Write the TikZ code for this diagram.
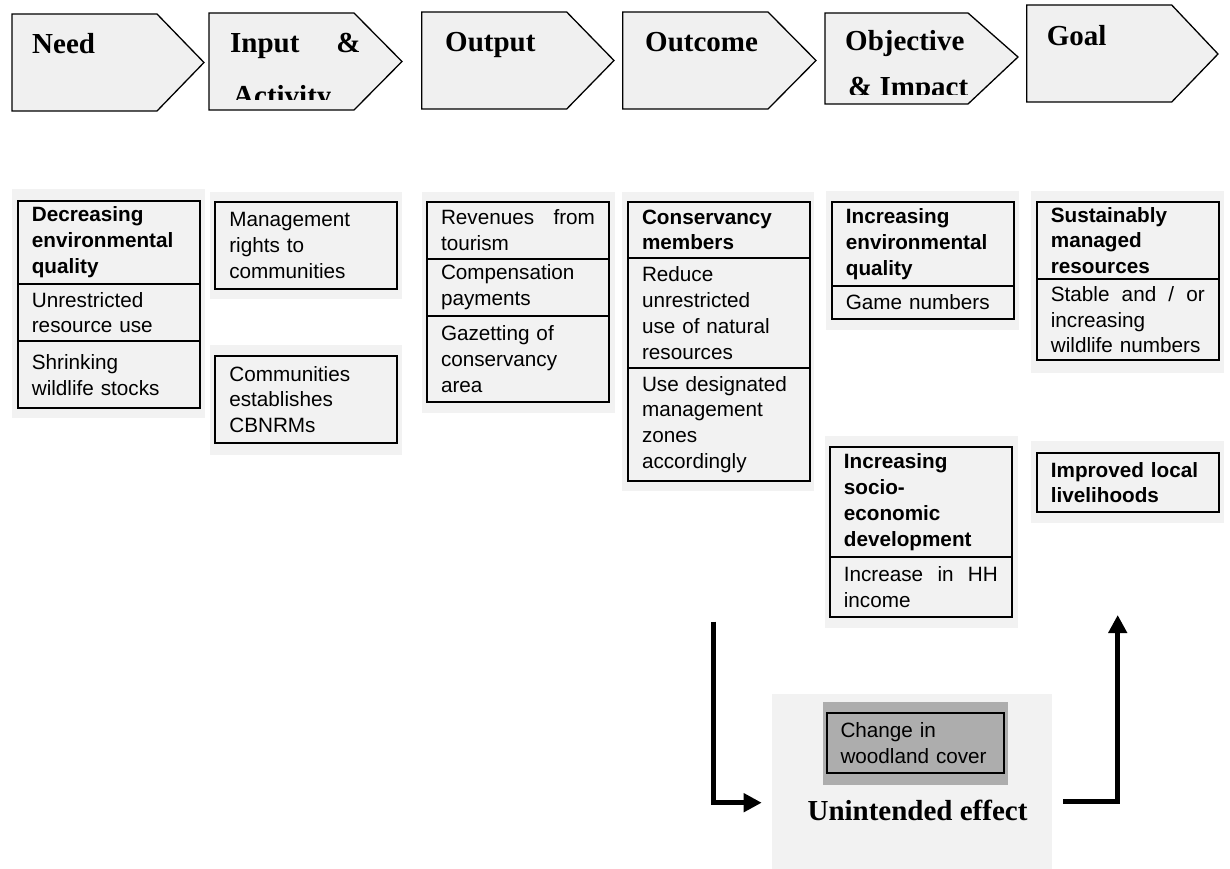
\documentclass[tikz,border=0pt]{standalone}
\usepackage{fontspec}
\usepackage{tikz}
\usetikzlibrary{%
	calc,%
	positioning,%
	arrows.meta
}
\newfontfamily\arialfont{Liberation Sans}
\newfontfamily\timesfont{Liberation Serif}
\definecolor{paleGray}{HTML}{F2F2F2}
\definecolor{headGray}{HTML}{F0F0F0}
\definecolor{darkGray}{HTML}{ADADAD}

\tikzset{
	headbox/.style={draw, fill=headGray, line width=1.3pt, line join=miter},
	headtext/.style={anchor=base west, inner sep=0pt, font=\timesfont\bfseries\fontsize{29}{29}\selectfont},
	backdrop/.style 2 args={fill=paleGray, anchor=north west, inner sep=0pt, outer sep=0pt, minimum width=#1, minimum height=#2},
	cell/.style={draw, line width=2pt, fill=paleGray, anchor=north, outer sep=0pt, inner xsep=14pt, inner ysep=2pt, text width=154pt, align=left, minimum height=#1, font=\arialfont\fontsize{20.7}{25.8}\selectfont},
	flowarrow/.style={->, line width=5pt, line join=miter}
}

\begin{document}
\begin{tikzpicture}[x=1pt, y=-1pt, >={Triangle[length=18pt,width=18pt]}]
	\useasboundingbox (0,0) rectangle (1230,869);

	% Header arrows
	\foreach \l/\t/\s/\p/\m/\b in {12/14/157/204/62.5/111, 209/13/354/402/61.5/110, 421.7/12/566.7/614/60.5/109, 622.7/12/768/816/60.5/109, 825/13/968/1018/57/104, 1026.7/5/1171.7/1218/54/102}
	\draw[headbox] (\l,\t) -- (\s,\t) -- (\p,\m) -- (\s,\b) -- (\l,\b) -- cycle;

	% Header labels
	\node[headtext] (hNeed) at (32,54) {Need};
	\node[headtext] (hInput) at (230,53) {Input\hspace{37pt}\&};
	\begin{scope}
		\clip (209,13) rectangle (354,100);
		\node[headtext] (hActivity) at (233,106) {Activity};
	\end{scope}
	\node[headtext] (hOutput) at (445,52) {Output};
	\node[headtext] (hOutcome) at (645,52) {Outcome};
	\node[headtext] (hObjective) at (845,50.5) {Objective};
	\begin{scope}
		\clip (825,13) rectangle (968,95);
		\node[headtext] (hImpact) at (848,97) {\& Impact};
	\end{scope}
	\node[headtext] (hGoal) at (1046.7,46) {Goal};

	% Backdrops
	\node[backdrop={193pt}{229pt}] (needbg) at (12,189) {};
	\node[backdrop={192pt}{107.3pt}] (inbgA) at (210,191.7) {};
	\node[backdrop={192pt}{110pt}] (inbgB) at (210,345) {};
	\node[backdrop={193pt}{221.3pt}] (outbg) at (422,191.7) {};
	\node[backdrop={192pt}{299.3pt}] (ocbg) at (622,191.7) {};
	\node[backdrop={193pt}{139.3pt}] (objbgA) at (826,190.7) {};
	\node[backdrop={193pt}{191.7pt}] (objbgB) at (825,436) {};
	\node[backdrop={193pt}{182.3pt}] (goalbgA) at (1031,190.7) {};
	\node[backdrop={193pt}{82pt}] (goalbgB) at (1031,441) {};
	\node[backdrop={280pt}{175pt}] (uebg) at (771.7,694) {};
	\node[backdrop={185.6pt}{82.4pt}, fill=darkGray] (chgbg) at (822.7,702.3) {};

	% Need
	\node[cell=83.3pt] (needA) at (108.85,200.7) {\bfseries Decreasing\\environmental\\quality};
	\node[cell=57.3pt, below=0pt of needA] (needB) {Unrestricted\\resource use};
	\node[cell=67pt, below=0pt of needB] (needC) {Shrinking\\wildlife stocks};

	% Input & activity
	\node[cell=87.3pt] (inA) at (306.35,201.7) {Management\\rights to\\communities};
	\node[cell=87pt] (inB) at (306.35,356) {Communities\\establishes\\CBNRMs};

	% Output
	\node[cell=57.3pt] (outA) at (518,201.7) {Revenues\hfill from\\tourism};
	\node[cell=57pt, below=0pt of outA] (outB) {Compensation\\payments};
	\node[cell=86pt, below=0pt of outB] (outC) {Gazetting of\\conservancy\\area};

	% Outcome
	\node[cell=56.3pt] (ocA) at (719,201.7) {\bfseries Conservancy\\members};
	\node[cell=110pt, below=0pt of ocA] (ocB) {Reduce\\unrestricted\\use of natural\\resources};
	\node[cell=113pt, below=0pt of ocB] (ocC) {Use designated\\management\\zones\\accordingly};

	% Objective & impact
	\node[cell=84.3pt] (objA) at (922.85,201.7) {\bfseries Increasing\\environmental\\quality};
	\node[cell=33pt, below=0pt of objA] (objB) {Game numbers};
	\node[cell=110.6pt] (objC) at (920.85,446.7) {\bfseries Increasing\\socio-\\economic\\development};
	\node[cell=59.4pt, below=0pt of objC] (objD) {Increase\hfill in\hfill HH\\income};

	% Goal
	\node[cell=77.6pt] (goalA) at (1127.85,201.7) {\bfseries Sustainably\\managed\\resources};
	\node[cell=80.7pt, below=0pt of goalA] (goalB) {Stable\hfill and\hfill /\hfill or\\increasing\\wildlife numbers};
	\node[cell=59.6pt] (goalC) at (1127.85,452.7) {\bfseries Improved local\\livelihoods};

	% Unintended effect
	\node[cell=60pt, fill=darkGray, text width=150pt, inner xsep=13.8pt] (chg) at (915.5,713.3) {Change in\\woodland cover};
	\node[headtext, anchor=base] (ueText) at (917.5,820) {Unintended effect};

	% Arrows
	\coordinate (downstart) at (713.3,621.7);
	\coordinate (effectin) at (761.7,802.7);
	\coordinate (effectout) at (1063.3,801.7);
	\coordinate (upend) at (1117.7,615);
	\draw[flowarrow] (downstart) |- (effectin);
	\draw[flowarrow] (effectout) -| (upend);
\end{tikzpicture}
\end{document}
